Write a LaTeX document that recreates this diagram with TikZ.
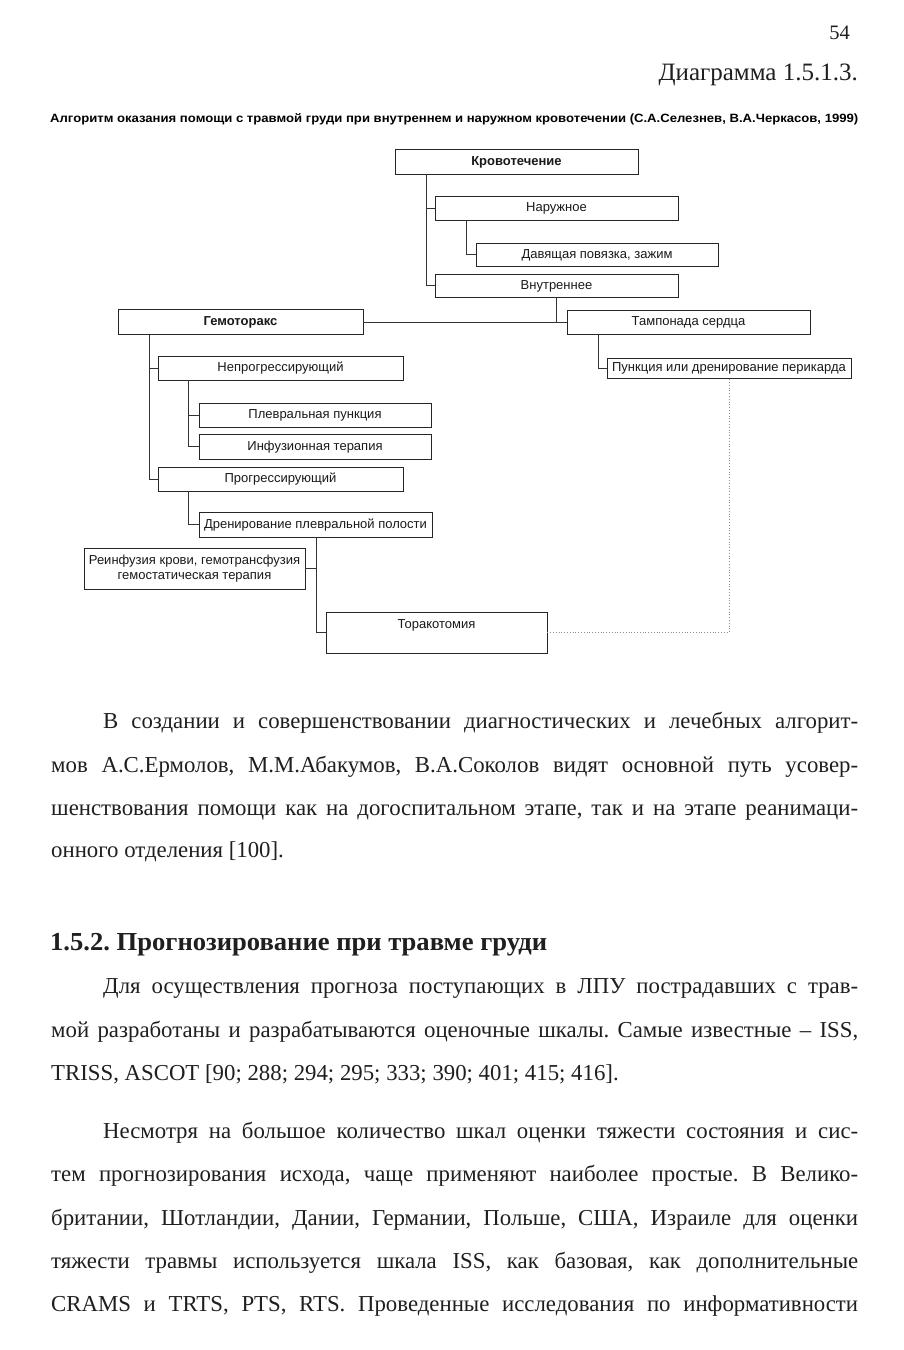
\documentclass[tikz,border=0pt]{standalone}
\usepackage{fontspec}
\usepackage{graphicx}
\setmainfont{Liberation Serif}
\newfontfamily\dsans{Liberation Sans}
\frenchspacing
\newcommand{\bodyfont}{\fontsize{22.8}{27}\selectfont\frenchspacing}
\newcommand{\jline}[3]{\node[anchor=base west,inner sep=0pt,text=black!88] at (#1) {\bodyfont\makebox[#2pt][s]{#3}};}
\newcommand{\nline}[2]{\node[anchor=base west,inner sep=0pt,text=black!88] at (#1) {\bodyfont #2};}
\begin{document}
\begin{tikzpicture}[x=1pt,y=-1pt,
  box/.style={draw=black!85,line width=0.9pt,inner sep=0pt,align=center,
    font=\dsans\fontsize{13}{15}\selectfont,text=black!90,text height=9.5pt,text depth=2.5pt},
  conn/.style={draw=black!80,line width=0.9pt},
  dotconn/.style={draw=black!45,line width=0.8pt,dotted}]
\useasboundingbox[fill=white] (0,0) rectangle (903,1350);

% header
\node[anchor=base east,inner sep=0pt,text=black!88] (pg) at (850,39) {\fontsize{20.5}{24}\selectfont 54};
\node[anchor=base east,inner sep=0pt,text=black!88] (dg) at (858,80) {\fontsize{25}{30}\selectfont Диаграмма 1.5.1.3.};
\node[anchor=base west,inner sep=0pt] (ttl) at (50,122) {\resizebox{808pt}{\height}{\dsans\bfseries\fontsize{12}{14}\selectfont Алгоритм оказания помощи с травмой груди при внутреннем и наружном кровотечении (С.А.Селезнев, В.А.Черкасов, 1999)}};

% boxes
\node[box,minimum width=243pt,minimum height=25pt] (krov) at (516.5,161.5) {\bfseries Кровотечение};
\node[box,minimum width=243pt,minimum height=24pt] (nar) at (556.5,208) {Наружное};
\node[box,minimum width=242pt,minimum height=23pt] (dav) at (597,254.5) {Давящая повязка, зажим};
\node[box,minimum width=243pt,minimum height=23pt] (vnu) at (556.5,285.5) {Внутреннее};
\node[box,minimum width=243pt,minimum height=24pt] (tamp) at (688.5,322) {Тампонада сердца};
\node[box,minimum width=245pt,minimum height=25pt] (gemo) at (240.5,322) {\bfseries Гемоторакс};
\node[box,minimum width=245pt,minimum height=24pt] (nepr) at (280.5,368) {Непрогрессирующий};
\node[box,minimum width=232pt,minimum height=24pt] (plev) at (315,415) {Плевральная пункция};
\node[box,minimum width=232pt,minimum height=25pt] (infu) at (315,446.5) {Инфузионная терапия};
\node[box,minimum width=245pt,minimum height=24pt] (prog) at (280.5,479) {Прогрессирующий};
\node[box,minimum width=233pt,minimum height=25pt] (dren) at (315.5,524.5) {Дренирование плевральной полости};
\node[box,minimum width=221pt,minimum height=41pt,text height=,text depth=] (rein) at (194.5,568.5) {Реинфузия крови, гемотрансфузия\\гемостатическая терапия};
\node[box,minimum width=221pt,minimum height=41pt,text depth=18pt] (tora) at (436.5,632.5) {Торакотомия};
\node[box,minimum width=244pt,minimum height=20pt] (punk) at (729,368) {Пункция или дренирование перикарда};

% connector columns
\coordinate (c1) at (426,0);
\coordinate (c2) at (466,0);
\coordinate (c3) at (149,0);
\coordinate (c4) at (188,0);
\coordinate (c5) at (316,0);
\coordinate (c6) at (598,0);

\draw[conn] (krov.south -| c1) |- (vnu.west);
\draw[conn] (c1 |- nar.west) -- (nar.west);
\draw[conn] (nar.south -| c2) |- (dav.west);
\draw[conn] (vnu.south) -- (vnu.south |- tamp.west);
\draw[conn] (gemo.east) -- (tamp.west);
\draw[conn] (gemo.south -| c3) |- (prog.west);
\draw[conn] (c3 |- nepr.west) -- (nepr.west);
\draw[conn] (nepr.south -| c4) |- (infu.west);
\draw[conn] (c4 |- plev.west) -- (plev.west);
\draw[conn] (prog.south -| c4) |- (dren.west);
\draw[conn] (dren.south -| c5) |- (tora.west);
\draw[conn] (c5 |- rein.east) -- (rein.east);
\draw[conn] (tamp.south -| c6) |- (punk.west);
\draw[dotconn] (tora.east) -| (punk.south);

% body text
\jline{103,728}{755}{В создании и совершенствовании диагностических и лечебных алгорит-}
\jline{51,772}{807}{мов А.С.Ермолов, М.М.Абакумов, В.А.Соколов видят основной путь усовер-}
\jline{51,815}{807}{шенствования помощи как на догоспитальном этапе, так и на этапе реанимаци-}
\nline{51,857}{онного отделения [100].}

\node[anchor=base west,inner sep=0pt,text=black!88] (hd) at (50,950) {\resizebox{497pt}{1.08\height}{\fontsize{24}{28}\selectfont\bfseries\frenchspacing 1.5.2. Прогнозирование при травме груди}};

\jline{103,993}{755}{Для осуществления прогноза поступающих в ЛПУ пострадавших с трав-}
\jline{51,1037}{807}{мой разработаны и разрабатываются оценочные шкалы. Самые известные – ISS,}
\nline{51,1080}{TRISS, ASCOT [90; 288; 294; 295; 333; 390; 401; 415; 416].}

\jline{103,1138}{755}{Несмотря на большое количество шкал оценки тяжести состояния и сис-}
\jline{51,1181}{807}{тем прогнозирования исхода, чаще применяют наиболее простые. В Велико-}
\jline{51,1225}{807}{британии, Шотландии, Дании, Германии, Польше, США, Израиле для оценки}
\jline{51,1268}{807}{тяжести травмы используется шкала ISS, как базовая, как дополнительные}
\jline{51,1311}{807}{CRAMS и TRTS, PTS, RTS. Проведенные исследования по информативности}
\end{tikzpicture}
\end{document}
